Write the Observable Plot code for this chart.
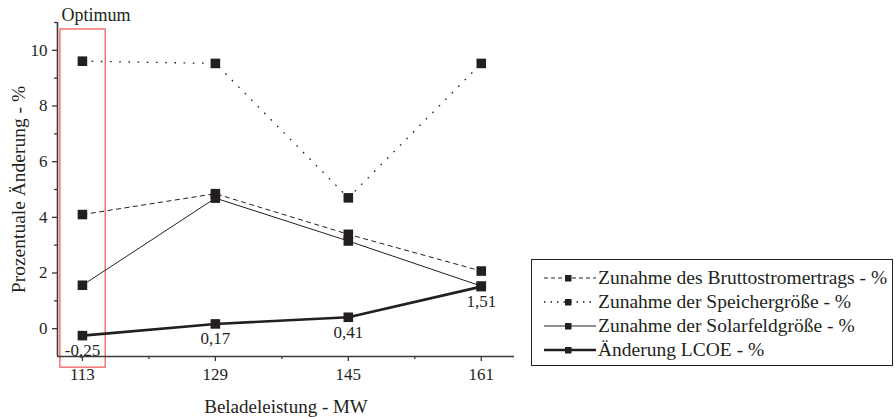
<!DOCTYPE html>
<html>
<head>
<meta charset="utf-8">
<script src="https://cdn.jsdelivr.net/npm/d3@7"></script>
<script src="https://cdn.jsdelivr.net/npm/@observablehq/plot@0.6"></script>
<style>
  body { margin: 0; background: #fff; }
  #wrap { position: relative; width: 895px; height: 417px; font-family: "Liberation Serif", "Times New Roman", serif; color: #231f20; }
  #legend { position: absolute; left: 531px; top: 259px; width: 362px; height: 107px; box-sizing: border-box;
            border: 1px solid #231f20; padding: 6px 0 0 11px; background: #fff; }
  .row { display: flex; align-items: center; height: 24px; font-size: 19.5px; white-space: nowrap; }
  .row svg { flex: none; margin-right: 1px; }
</style>
</head>
<body>
<div id="wrap"></div>
<script>
// Charging power (MW) and the relative change of each quantity (%)
const leistung = [113, 129, 145, 161];
const bruttostrom = [4.10, 4.85, 3.39, 2.07];
const speicher = [9.61, 9.53, 4.70, 9.53];
const solarfeld = [1.56, 4.69, 3.15, 1.53];
const lcoe = [-0.25, 0.17, 0.41, 1.51];
const lcoeLabels = ["-0,25", "0,17", "0,41", "1,51"];

const seriesNames = [
  "Zunahme des Bruttostromertrags - %",
  "Zunahme der Speichergröße - %",
  "Zunahme der Solarfeldgröße - %",
  "Änderung LCOE - %"
];
const seriesValues = [bruttostrom, speicher, solarfeld, lcoe];
const seriesDash = ["5,3.5", "1.6,7.6", null, null];
const legendDash = ["4,3", "1.5,5", null, null];
const seriesWidth = [1, 1.3, 1, 2.6];

const xTicks = [113, 129, 145, 161];
const xMinorTicks = [121, 137, 153];
const yTicks = [0, 2, 4, 6, 8, 10];
const yMinorTicks = [1, 3, 5, 7, 9, 11];

const xTitle = "Beladeleistung - MW";
const yTitle = "Prozentuale Änderung - %";
const optimumLabel = "Optimum";

// Optimum highlight around the first operating point (data units)
const optimumBox = [{x1: 110.35, x2: 115.8, y1: -1.4, y2: 10.75}];

const ink = "#231f20";
const axisInk = "#3a3a3a";

const tidy = seriesNames.flatMap((name, i) =>
  leistung.map((x, j) => ({series: name, i, x, y: seriesValues[i][j]})));

const lineMarks = seriesNames.map((name, i) =>
  Plot.line(tidy.filter(d => d.i === i), {
    x: "x", y: "y", stroke: ink, strokeWidth: seriesWidth[i],
    strokeDasharray: seriesDash[i] ?? undefined, strokeLinecap: "butt"
  }));

const lcoeData = leistung.map((x, j) => ({x, y: lcoe[j], label: lcoeLabels[j]}));

const chart = Plot.plot({
  width: 895,
  height: 417,
  marginLeft: 57,
  marginRight: 381,
  marginTop: 22,
  marginBottom: 61,
  x: {domain: [110, 165]},
  y: {domain: [-1, 11]},
  style: {fontFamily: "Liberation Serif, Times New Roman, serif", fontSize: "17px", color: ink, background: "white"},
  marks: [
    Plot.rect(optimumBox, {x1: "x1", x2: "x2", y1: "y1", y2: "y2", fill: "none", stroke: "#ef5350", strokeWidth: 1.2, clip: false}),
    Plot.axisY({ticks: yTicks, tickSize: 5, tickPadding: 5, label: null, stroke: axisInk, strokeWidth: 1.3, fill: ink}),
    Plot.axisY({ticks: yMinorTicks, tickSize: 3, tickFormat: () => "", label: null, stroke: axisInk, strokeWidth: 1.3}),
    Plot.axisX({ticks: xTicks, tickSize: 5, tickPadding: 6, label: null, stroke: axisInk, strokeWidth: 1.3, fill: ink}),
    Plot.axisX({ticks: xMinorTicks, tickSize: 3, tickFormat: () => "", label: null, stroke: axisInk, strokeWidth: 1.3}),
    Plot.ruleX([110], {stroke: axisInk, strokeWidth: 1.6}),
    Plot.ruleY([-1], {stroke: axisInk, strokeWidth: 1.6}),
    ...lineMarks,
    Plot.dot(tidy, {x: "x", y: "y", symbol: "square", r: 5.4, fill: ink, stroke: "none"}),
    Plot.text(lcoeData, {x: "x", y: "y", text: "label", dy: 15, fill: ink, fontSize: 17}),
    Plot.text([xTitle], {frameAnchor: "bottom", lineAnchor: "middle", dy: 50, fill: ink, fontSize: 19}),
    Plot.text([yTitle], {frameAnchor: "left", textAnchor: "middle", lineAnchor: "middle", rotate: -90, dx: -39, dy: 0, fill: ink, fontSize: 19.5}),
    Plot.text([optimumLabel], {frameAnchor: "top-left", textAnchor: "start", lineAnchor: "middle", dx: 4, dy: -7, fill: ink, fontSize: 18})
  ]
});

const wrap = document.getElementById("wrap");
wrap.appendChild(chart);

// Legend box: line sample with a square marker, then the series name
const legend = document.createElement("div");
legend.id = "legend";
seriesNames.forEach((name, i) => {
  const row = document.createElement("div");
  row.className = "row";
  const dash = legendDash[i] ? `stroke-dasharray="${legendDash[i]}"` : "";
  row.innerHTML =
    `<svg width="54" height="14" viewBox="0 0 54 14">` +
    `<line x1="1" x2="53" y1="7" y2="7" stroke="${ink}" stroke-width="${seriesWidth[i]}" ${dash}/>` +
    `<rect x="22" y="4" width="6.5" height="6.5" fill="${ink}"/></svg>` +
    `<span>${name}</span>`;
  legend.appendChild(row);
});
wrap.appendChild(legend);
</script>
</body>
</html>
